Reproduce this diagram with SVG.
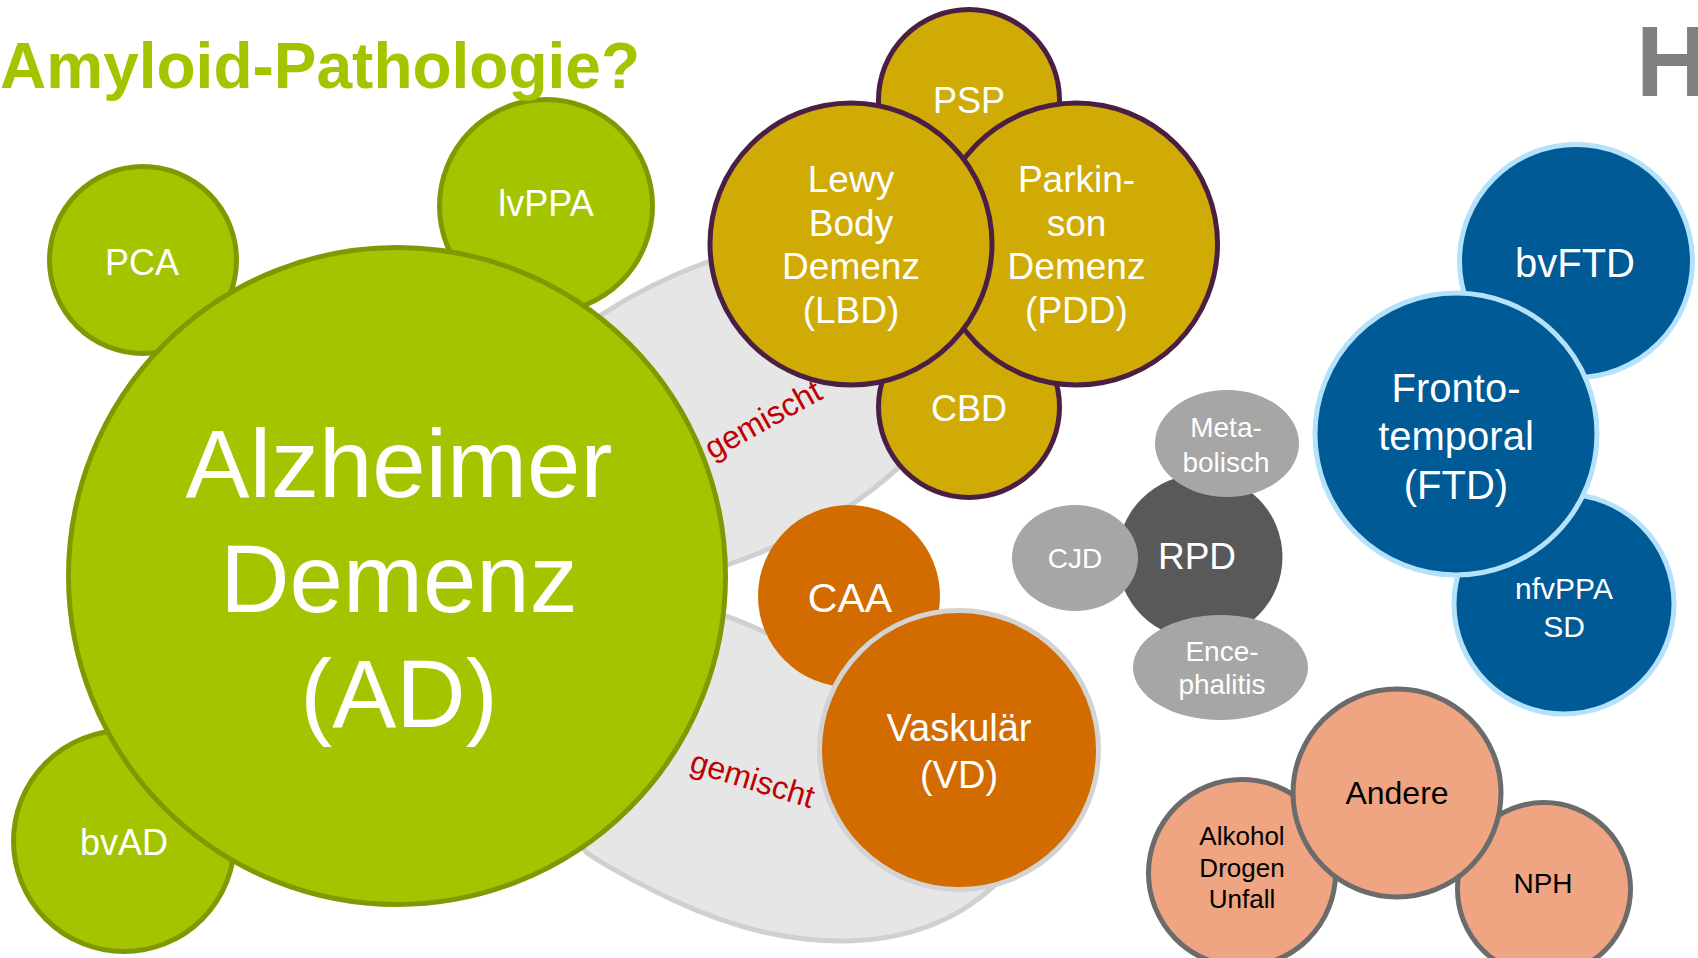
<svg xmlns="http://www.w3.org/2000/svg" width="1698" height="958" viewBox="0 0 1698 958">
<style>
text { font-family: "Liberation Sans", Arial, Helvetica, sans-serif; text-anchor: middle; }
.w { fill: #ffffff; }
.k { fill: #000000; }
.g { fill: #a5c400; stroke: #7e9a00; stroke-width: 5; }
.au { fill: #d0ab06; stroke: #4b1f44; stroke-width: 5; }
.bl { fill: #005a96; stroke: #b4e2fa; stroke-width: 5; }
.or { fill: #d26b00; }
.vd { fill: #d26b00; stroke: #d3d3d3; stroke-width: 5; }
.sa { fill: #efa482; stroke: #6b6b6b; stroke-width: 5; }
.lg { fill: #a6a6a6; }
.dg { fill: #595959; }
.mix { fill: #e6e6e6; stroke: #d0d0d0; stroke-width: 5; }
.red { fill: #c00000; font-size: 32px; }
</style>

<g id="mixed-regions">
  <path class="mix" d="M 560,345 L 601,315 Q 650,283 707,262 L 800,250 L 950,330 L 930,440 L 898,468 Q 830,530 727,565 L 680,560 Z"/>
  <path class="mix" d="M 560,820 L 600,580 L 700,607 C 712,611 740,620 760,630 C 820,655 900,700 1000,850 L 995,885 Q 935,941 840,941 Q 760,941 673,900 Q 620,875 587,853 Z"/>
</g>

<g id="connectors"></g>

<g id="pca">
  <circle class="g" cx="143" cy="260" r="93.5"/>
  <text class="w" x="142" y="275" font-size="36">PCA</text>
</g>
<g id="lvppa">
  <circle class="g" cx="546" cy="206" r="106.5"/>
  <text class="w" x="546" y="216" font-size="36">lvPPA</text>
</g>
<g id="bvad">
  <circle class="g" cx="124" cy="841" r="110.5"/>
  <text class="w" x="124" y="855" font-size="36">bvAD</text>
</g>
<g id="ad">
  <circle class="g" cx="397" cy="576" r="328.5"/>
  <text class="w" x="399" y="497" font-size="96">Alzheimer</text>
  <text class="w" x="399" y="612" font-size="96">Demenz</text>
  <text class="w" x="399" y="727" font-size="96">(AD)</text>
</g>

<g id="label-mixed-1">
  <text class="red" transform="translate(764,421) rotate(-29)" x="0" y="9">gemischt</text>
</g>
<g id="label-mixed-2">
  <text class="red" transform="translate(752,781) rotate(17)" x="0" y="9">gemischt</text>
</g>

<g id="psp">
  <circle class="au" cx="969" cy="100" r="90.5"/>
  <text class="w" x="969" y="113" font-size="36">PSP</text>
</g>
<g id="cbd">
  <circle class="au" cx="969" cy="407" r="90.5"/>
  <text class="w" x="969" y="421" font-size="36">CBD</text>
</g>
<g id="pdd">
  <circle class="au" cx="1076.5" cy="244" r="141"/>
  <text class="w" x="1076.5" y="192" font-size="37">Parkin-</text>
  <text class="w" x="1076.5" y="235.5" font-size="37">son</text>
  <text class="w" x="1076.5" y="279" font-size="37">Demenz</text>
  <text class="w" x="1076.5" y="322.5" font-size="37">(PDD)</text>
</g>
<g id="lbd">
  <circle class="au" cx="851" cy="244" r="141"/>
  <text class="w" x="851" y="192" font-size="37">Lewy</text>
  <text class="w" x="851" y="235.5" font-size="37">Body</text>
  <text class="w" x="851" y="279" font-size="37">Demenz</text>
  <text class="w" x="851" y="322.5" font-size="37">(LBD)</text>
</g>

<g id="caa">
  <circle class="or" cx="849" cy="596" r="91"/>
  <text class="w" x="850" y="612" font-size="41">CAA</text>
</g>
<g id="vd">
  <circle class="vd" cx="959" cy="750" r="139.5"/>
  <text class="w" x="959" y="741" font-size="38">Vaskulär</text>
  <text class="w" x="959" y="788" font-size="38">(VD)</text>
</g>

<g id="rpd">
  <circle class="dg" cx="1200" cy="557" r="82.5"/>
  <text class="w" x="1197" y="569" font-size="37">RPD</text>
</g>
<g id="metabolisch">
  <ellipse class="lg" cx="1227" cy="443.5" rx="72" ry="53.5"/>
  <text class="w" x="1226" y="437" font-size="28">Meta-</text>
  <text class="w" x="1226" y="472" font-size="28">bolisch</text>
</g>
<g id="cjd">
  <ellipse class="lg" cx="1075" cy="558" rx="63" ry="53"/>
  <text class="w" x="1075" y="568" font-size="28">CJD</text>
</g>
<g id="encephalitis">
  <ellipse class="lg" cx="1220.5" cy="667.5" rx="87.5" ry="52.5"/>
  <text class="w" x="1222" y="661" font-size="28">Ence-</text>
  <text class="w" x="1222" y="694" font-size="28">phalitis</text>
</g>

<g id="bvftd">
  <circle class="bl" cx="1576" cy="261" r="116.5"/>
  <text class="w" x="1575" y="277" font-size="40">bvFTD</text>
</g>
<g id="nfvppa">
  <circle class="bl" cx="1564" cy="604" r="110"/>
  <text class="w" x="1564" y="599" font-size="30">nfvPPA</text>
  <text class="w" x="1564" y="637" font-size="30">SD</text>
</g>
<g id="ftd">
  <circle class="bl" cx="1456" cy="434" r="141"/>
  <text class="w" x="1456" y="402" font-size="40">Fronto-</text>
  <text class="w" x="1456" y="450" font-size="40">temporal</text>
  <text class="w" x="1456" y="499" font-size="40">(FTD)</text>
</g>

<g id="alkohol">
  <circle class="sa" cx="1242" cy="873" r="93.5"/>
  <text class="k" x="1242" y="845" font-size="26">Alkohol</text>
  <text class="k" x="1242" y="877" font-size="26">Drogen</text>
  <text class="k" x="1242" y="908" font-size="26">Unfall</text>
</g>
<g id="nph">
  <circle class="sa" cx="1544" cy="889" r="86.5"/>
  <text class="k" x="1543" y="893" font-size="28">NPH</text>
</g>
<g id="andere">
  <circle class="sa" cx="1397" cy="793" r="104"/>
  <text class="k" x="1397" y="804" font-size="32">Andere</text>
</g>

<g id="title">
  <text x="0" y="88" font-size="64" font-weight="bold" fill="#a5c400" style="text-anchor:start">Amyloid-Pathologie?</text>
</g>
<g id="logo">
  <text x="1636" y="96" font-size="100" font-weight="bold" fill="#808080" style="text-anchor:start">H</text>
</g>
</svg>
